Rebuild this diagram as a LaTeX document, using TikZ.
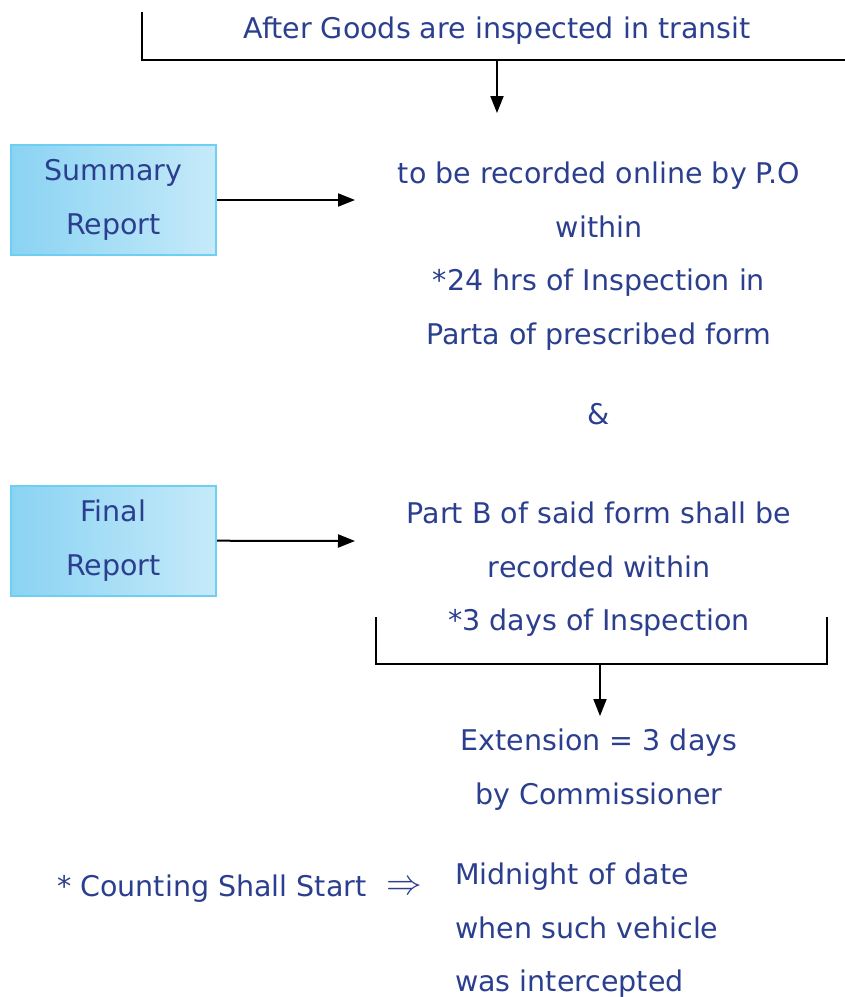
\documentclass[tikz,border=0pt]{standalone}
\usepackage{fix-cm}
\usepackage{graphicx}
\usepackage{fontspec}
\setmainfont{DejaVu Sans}
\usetikzlibrary{arrows.meta,positioning}
\definecolor{ink}{HTML}{2B3F8E}
\definecolor{skyl}{HTML}{8AD3F3}
\definecolor{skyr}{HTML}{C6EAF9}
\definecolor{border}{HTML}{6DCFF2}

\begin{document}
\begin{tikzpicture}[x=1pt,y=-1pt,
    txt/.style={text=ink,inner sep=0pt,align=center,font=\fontsize{28.5}{53.5}\selectfont},
    box/.style={draw=border,line width=2pt,left color=skyl,right color=skyr,minimum width=205pt,minimum height=110pt,text=ink,align=center,font=\fontsize{28.5}{53.5}\selectfont},
    arr/.style={-{Triangle[length=17pt,width=13pt]},line width=2pt},
    brk/.style={line width=2pt}]
    \useasboundingbox (0,0) rectangle (845,997);
    % top bracket
    \node[txt,anchor=base] (goods) at (497,38) {After Goods are inspected in transit};
    \coordinate (gtop) at (142,12); \coordinate (gend) at (845,60);
    \coordinate (gtee) at (497,60); \coordinate (gtip) at (497,113);
    \draw[brk] (gtop) |- (gend);
    \draw[arr] (gtee) -- (gtip);
    % summary report
    \node[box] (sum) at (113.5,200) {Summary\\Report};
    \coordinate (sumtip) at (355,200);
    \draw[arr] (sum) -- (sumtip);
    \node[txt,anchor=north] (rec) at (599,162) {to be recorded online by P.O\\within\\*24 hrs of Inspection in\\Parta of prescribed form};
    \node[txt,anchor=base] (amp) at (599,424) {\&};
    % final report
    \node[box] (fin) at (113.5,540.5) {Final\\Report};
    \coordinate (fintip) at (355,541);
    \draw[arr] (fin) -- (fintip);
    \node[txt,anchor=north] (partb) at (599,502) {Part B of said form shall be\\recorded within\\*3 days of Inspection};
    \coordinate (fbl) at (376,617); \coordinate (fbr) at (827,617);
    \coordinate (fbtee) at (600,664); \coordinate (fbtip) at (600,716);
    \draw[brk] (fbl) |- (fbtee) -| (fbr);
    \draw[arr] (fbtee) -- (fbtip);
    \node[txt,anchor=north] (ext) at (599,729) {Extension = 3 days\\by Commissioner};
    % counting note
    \node[txt,anchor=base west] (count) at (57,896) {* Counting Shall Start};
    \node[txt,anchor=base] (impl) at (404,894) {\scalebox{1.25}{$\Rightarrow$}};
    \node[txt,anchor=north west,align=left] (mid) at (455,863) {Midnight of date\\when such vehicle\\was intercepted};
\end{tikzpicture}
\end{document}
